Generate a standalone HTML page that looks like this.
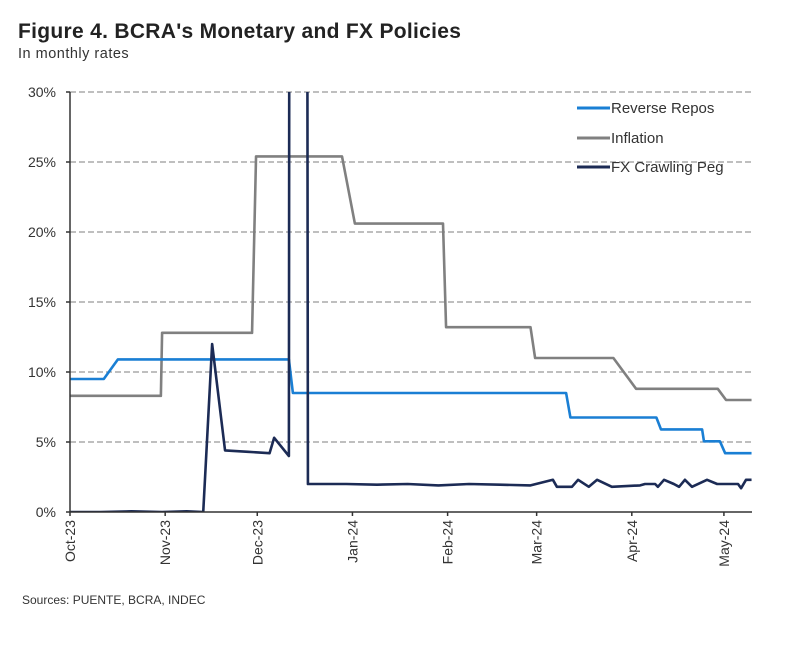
<!DOCTYPE html>
<html><head><meta charset="utf-8"><style>
body{margin:0;background:#fff;width:800px;height:642px;overflow:hidden;font-family:"Liberation Sans",sans-serif}
</style></head><body>
<svg width="800" height="642" font-family="Liberation Sans, sans-serif">
<text x="18" y="38" font-size="21" font-weight="bold" fill="#222" letter-spacing="0.3">Figure 4. BCRA's Monetary and FX Policies</text>
<text x="18" y="58" font-size="14.5" fill="#333" letter-spacing="0.5">In monthly rates</text>
<g id="grid"></g><g id="series"></g><g id="axes"></g>
<g font-size="15" fill="#333">
<line x1="577" y1="108" x2="610" y2="108" stroke="#1a7fd4" stroke-width="3"/><text x="611" y="113">Reverse Repos</text>
<line x1="577" y1="138" x2="610" y2="138" stroke="#808080" stroke-width="3"/><text x="611" y="143">Inflation</text>
<line x1="577" y1="167" x2="610" y2="167" stroke="#1c2b55" stroke-width="3"/><text x="611" y="172">FX Crawling Peg</text>
</g>
<text x="22" y="604" font-size="12" fill="#333">Sources: PUENTE, BCRA, INDEC</text>
</svg>
<script>
const yTicks=[0,5,10,15,20,25,30];
const monthLabels=["Oct-23","Nov-23","Dec-23","Jan-24","Feb-24","Mar-24","Apr-24","May-24"];
const monthDays=[0,31,61,92,123,152,183,213];
const repoDays=[0,11,15.6,71.3,72.6,161.6,163,191,192.5,205.9,206.5,211.7,213.4,222];
const repoVals=[9.5,9.5,10.9,10.9,8.5,8.5,6.75,6.75,5.9,5.9,5.05,5.05,4.2,4.2];
const inflDays=[0,29.6,30,59.3,60.6,88.6,92.8,121.5,122.5,150,151.5,177,184.4,211,213.7,222];
const inflVals=[8.3,8.3,12.8,12.8,25.4,25.4,20.6,20.6,13.2,13.2,11.0,11.0,8.8,8.8,8.0,8.0];
const fxDays=[0,10,20,30,38,43.4,46.3,50.5,58,65,66.5,71.3,71.5,77.2,77.5,90,100,110,120,130,140,150,157.3,158.6,163.5,165.5,169,171.7,176.5,185.7,187.3,190.6,191.5,193.5,196.7,198.4,200.3,202.6,207.5,210.8,217.6,218.6,220.2,222];
const fxVals=[0,0,0.05,0,0.05,0,12,4.4,4.3,4.2,5.3,4.0,54,54,2.0,2.0,1.95,2.0,1.9,2.0,1.95,1.9,2.3,1.8,1.8,2.3,1.8,2.3,1.8,1.9,2.0,2.0,1.8,2.3,2.0,1.8,2.3,1.8,2.3,2.0,2.0,1.7,2.3,2.3];
const X0=70,PXD=3.07,Y0=512,PXP=14;
const xs=d=>X0+d*PXD, ys=v=>Y0-v*PXP;
const NS="http://www.w3.org/2000/svg";
function mk(t,a,p){const e=document.createElementNS(NS,t);for(const k in a)e.setAttribute(k,a[k]);p.appendChild(e);return e;}
const grid=document.getElementById('grid'),axes=document.getElementById('axes'),ser=document.getElementById('series');
yTicks.forEach(v=>{
 if(v>0){const g=mk('line',{x1:X0,x2:752,y1:ys(v),y2:ys(v),stroke:'#999','stroke-width':1.2,'stroke-dasharray':'6,3'},grid);
 
 }
 const t=mk('text',{x:56,y:ys(v)+5,'text-anchor':'end','font-size':14,fill:'#333'},axes);t.textContent=v+'%';
 
 
 mk('line',{x1:X0-4,x2:X0,y1:ys(v),y2:ys(v),stroke:'#333','stroke-width':1.5},axes);
});
const ya=mk('line',{x1:X0,x2:X0,y1:ys(30),y2:Y0,stroke:'#333','stroke-width':1.5},axes);


const xa=mk('line',{x1:X0,x2:752,y1:Y0,y2:Y0,stroke:'#333','stroke-width':1.5},axes);


monthLabels.forEach((m,i)=>{
 const x=xs(monthDays[i]);
 mk('line',{x1:x,x2:x,y1:Y0,y2:Y0+4,stroke:'#333','stroke-width':1.5},axes);
 const t=mk('text',{x:0,y:0,transform:`translate(${x+5},${Y0+8}) rotate(-90)`,'text-anchor':'end','font-size':14,fill:'#333'},axes);
 t.textContent=m;
 
 
});
mk('clipPath',{id:'pc'},ser).appendChild(document.createElementNS(NS,'rect'));
const r=ser.querySelector('rect');r.setAttribute('x',X0);r.setAttribute('y',ys(30));r.setAttribute('width',700);r.setAttribute('height',Y0-ys(30));
function line(d,v,c,name){
 const p=mk('polyline',{points:d.map((x,i)=>xs(x)+','+ys(v[i])).join(' '),fill:'none',stroke:c,'stroke-width':2.6,'stroke-linejoin':'round','clip-path':'url(#pc)'},ser);
 
 
}
line(inflDays,inflVals,'#808080','inflation-line');
line(repoDays,repoVals,'#1a7fd4','reverse-repos-line');
line(fxDays,fxVals,'#1c2b55','fx-crawling-peg-line');
</script>
</body></html>
